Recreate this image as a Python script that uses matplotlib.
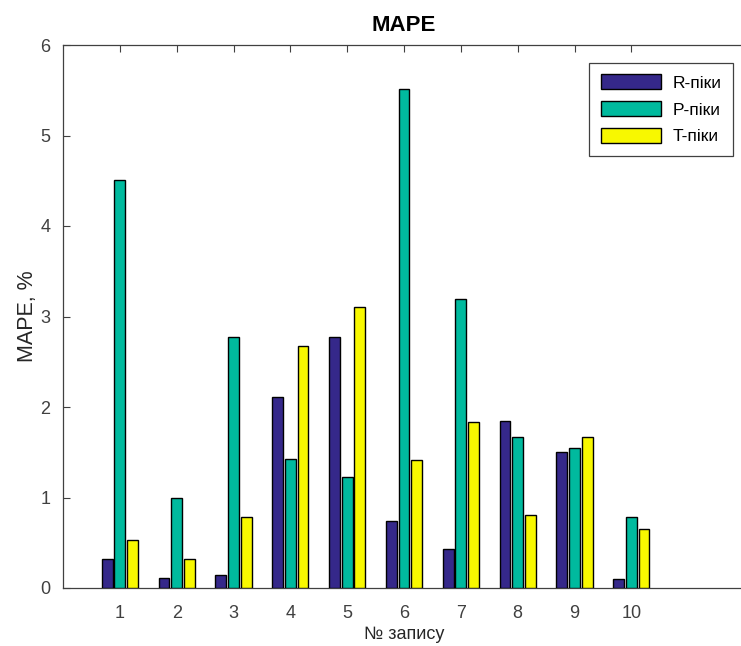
import matplotlib.pyplot as plt
import numpy as np

# data
records = [1, 2, 3, 4, 5, 6, 7, 8, 9, 10]
r_peaks = [0.32, 0.11, 0.14, 2.11, 2.77, 0.74, 0.43, 1.85, 1.50, 0.10]
p_peaks = [4.51, 0.99, 2.77, 1.42, 1.23, 5.51, 3.19, 1.67, 1.55, 0.79]
t_peaks = [0.53, 0.32, 0.78, 2.67, 3.10, 1.41, 1.83, 0.81, 1.67, 0.65]
labels = ["R-піки", "P-піки", "T-піки"]
colors = ["#35288A", "#00BA9E", "#F8F800"]

plt.rcParams['font.family'] = ['Liberation Sans', 'DejaVu Sans']

fig = plt.figure(figsize=(7.41, 6.46), dpi=100, facecolor='white')
# axes box (right edge runs off the image)
ax = fig.add_axes([63/741, 1-588/646, 682/741, 543/646])

x = np.array(records, dtype=float)
step = 0.222   # spacing between bars in a group
width = 0.19
for i, (vals, lab, col) in enumerate(zip([r_peaks, p_peaks, t_peaks], labels, colors)):
    ax.bar(x + (i-1)*step, vals, width, color=col, edgecolor='black',
           linewidth=1.0, label=lab, zorder=3)

ax.set_xlim(0, 12)
ax.set_ylim(0, 6)
ax.set_xticks(records)
ax.set_yticks(range(0, 7))

ax.tick_params(direction='in', top=True, right=False, length=5,
               labelsize=13, colors='#404040', width=0.8)
ax.tick_params(axis='x', pad=12)
ax.tick_params(axis='y', pad=9)
for s in ax.spines.values():
    s.set_color('#404040')
    s.set_linewidth(0.9)

ax.set_title("MAPE", fontsize=16, fontweight='bold', pad=10)
ax.set_xlabel("№ запису", fontsize=13, color='#262626', labelpad=3)
ax.set_ylabel("MAPE, %", fontsize=15.5, color='#262626', labelpad=2)

leg = ax.legend(loc='upper right', bbox_to_anchor=(733/741, 1-63/646),
                bbox_transform=fig.transFigure, borderaxespad=0,
                fancybox=False, framealpha=1, edgecolor='#404040',
                fontsize=12.5, handlelength=3.5, handleheight=0.95,
                labelspacing=0.6, handletextpad=0.65, borderpad=0.65)
leg.get_frame().set_linewidth(0.9)

fig.savefig("out.png", dpi=100)
